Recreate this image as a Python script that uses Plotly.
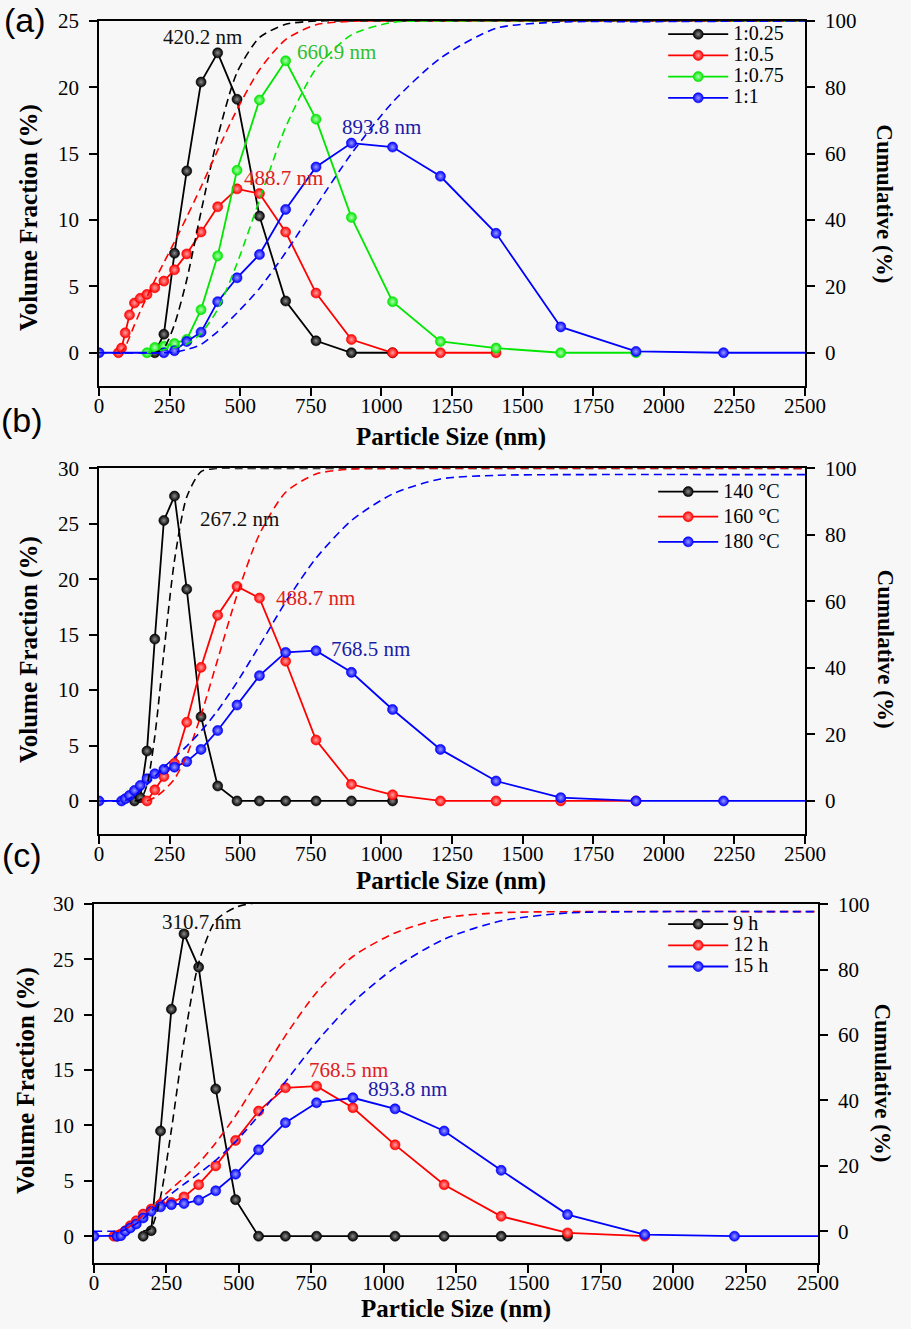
import plotly.graph_objs as go

SERIF = "Liberation Serif"

# ---- (a) ratio series : volume fraction (%) vs particle size (nm)
a_black_x = [197.5, 229.7, 267.2, 310.7, 361.3, 420.2, 488.7, 568.2, 660.9, 768.5, 893.8, 1039.5]
a_black_y = [0, 1.4, 7.5, 13.7, 20.4, 22.6, 19.1, 10.3, 3.9, 0.9, 0, 0]
a_red_x = [68.6, 79.8, 92.8, 107.9, 125.5, 146.0, 169.8, 197.5, 229.7, 267.2, 310.7, 361.3,
           420.2, 488.7, 568.2, 660.9, 768.5, 893.8, 1039.5, 1209.0, 1406.0]
a_red_y = [0, 0.35, 1.5, 2.85, 3.75, 4.1, 4.4, 4.9, 5.4, 6.25, 7.45, 9.1,
           11.0, 12.35, 12.0, 9.1, 4.5, 1.0, 0, 0, 0]
a_green_x = [169.8, 197.5, 229.7, 267.2, 310.7, 361.3, 420.2, 488.7, 568.2, 660.9, 768.5,
             893.8, 1039.5, 1209.0, 1406.0, 1635.1, 1901.6]
a_green_y = [0, 0.4, 0.5, 0.7, 1.0, 3.25, 7.3, 13.75, 19.05, 22.0, 17.6,
             10.2, 3.85, 0.85, 0.35, 0, 0]
a_blue_x = [0, 229.7, 267.2, 310.7, 361.3, 420.2, 488.7, 568.2, 660.9, 768.5, 893.8,
            1039.5, 1209.0, 1406.0, 1635.1, 1901.6, 2211.6, 2572.0]
a_blue_y = [0, 0, 0.15, 0.85, 1.55, 3.85, 5.65, 7.4, 10.8, 14.0, 15.8,
            15.5, 13.3, 9.0, 1.95, 0.1, 0, 0]

# cumulative (%) curves, right axis
a_black_cx = [197.5, 229.7, 267.2, 310.7, 361.3, 420.2, 488.7, 568.2, 660.9, 768.5, 893.8, 2500]
a_black_cum = [0, 1.4, 8.5, 22, 42.5, 65, 84.5, 95, 99, 100, 100, 100]
a_red_cx = [68.6, 79.8, 92.8, 107.9, 125.5, 146.0, 169.8, 197.5, 229.7, 267.2, 310.7, 361.3,
            420.2, 488.7, 568.2, 660.9, 768.5, 893.8, 1039.5, 2500]
a_red_cum = [0, 0.4, 1.8, 4.7, 8.4, 12.5, 16.9, 21.8, 27.2, 33.4, 40.9, 50,
             61, 73.3, 85.3, 94.4, 98.9, 99.9, 100, 100]
a_green_cx = [169.8, 197.5, 229.7, 267.2, 310.7, 361.3, 420.2, 488.7, 568.2, 660.9, 768.5,
              893.8, 1039.5, 1209.0, 2500]
a_green_cum = [0, 0.4, 0.9, 1.6, 2.6, 5.8, 13.1, 26.9, 46, 68, 85.6, 95.8, 99.6, 100, 100]
a_blue_cx = [0, 229.7, 267.2, 310.7, 361.3, 420.2, 488.7, 568.2, 660.9, 768.5, 893.8,
             1039.5, 1209.0, 1406.0, 1635.1, 1901.6, 2500]
a_blue_cum = [0, 0, 0.15, 1, 2.5, 6.4, 12, 19.4, 30.2, 44.2, 60, 75.5, 88.8, 97.8, 99.7, 99.8, 100]

# ---- (b) temperature series
b_black_x = [125.5, 146.0, 169.8, 197.5, 229.7, 267.2, 310.7, 361.3, 420.2, 488.7, 568.2,
             660.9, 768.5, 893.8, 1039.5]
b_black_y = [0, 0.3, 4.5, 14.6, 25.3, 27.5, 19.1, 7.6, 1.35, 0, 0, 0, 0, 0, 0]
b_red_x = [169.8, 197.5, 229.7, 267.2, 310.7, 361.3, 420.2, 488.7, 568.2, 660.9, 768.5,
           893.8, 1039.5, 1209.0, 1406.0, 1635.1, 1901.6]
b_red_y = [0, 1.0, 2.2, 3.4, 7.1, 12.05, 16.75, 19.35, 18.3, 12.6, 5.5, 1.5, 0.55, 0, 0, 0, 0]
b_blue_x = [0, 79.8, 92.8, 107.9, 125.5, 146.0, 169.8, 197.5, 229.7, 267.2, 310.7, 361.3,
            420.2, 488.7, 568.2, 660.9, 768.5, 893.8, 1039.5, 1209.0, 1406.0, 1635.1,
            1901.6, 2211.6, 2572.0]
b_blue_y = [0, 0, 0.2, 0.5, 0.95, 1.4, 2.0, 2.45, 2.85, 3.05, 3.55, 4.65,
            6.35, 8.65, 11.3, 13.4, 13.55, 11.6, 8.25, 4.65, 1.8, 0.3, 0, 0, 0]

b_black_cx = [125.5, 146.0, 169.8, 197.5, 229.7, 267.2, 310.7, 361.3, 420.2, 488.7, 2500]
b_black_cum = [0, 0.3, 4.8, 19.4, 44.7, 72.3, 91.4, 99, 100, 100, 100]
b_red_cx = [169.8, 197.5, 229.7, 267.2, 310.7, 361.3, 420.2, 488.7, 568.2, 660.9, 768.5,
            893.8, 1039.5, 2500]
b_red_cum = [0, 1, 3.2, 6.6, 13.7, 25.8, 42.5, 61.9, 80.2, 92.8, 98.3, 99.8, 100, 100]
b_blue_cx = [0, 79.8, 92.8, 107.9, 125.5, 146.0, 169.8, 197.5, 229.7, 267.2, 310.7, 361.3,
             420.2, 488.7, 568.2, 660.9, 768.5, 893.8, 1039.5, 1209.0, 1406.0, 1635.1, 2500]
b_blue_cum = [0, 0, 0.2, 0.7, 1.6, 3, 4.9, 7.3, 10.1, 13.1, 16.5, 21,
              27.2, 35.7, 46.7, 59.8, 73, 84.3, 92.3, 96.8, 97.9, 98.1, 98.1]

# ---- (c) time series
c_black_x = [169.8, 197.5, 229.7, 267.2, 310.7, 361.3, 420.2, 488.7, 568.2, 660.9, 768.5,
             893.8, 1039.5, 1209.0, 1406.0, 1635.1]
c_black_y = [0, 0.5, 9.5, 20.5, 27.3, 24.3, 13.3, 3.3, 0, 0, 0, 0, 0, 0, 0, 0]
c_red_x = [68.6, 79.8, 92.8, 107.9, 125.5, 146.0, 169.8, 197.5, 229.7, 267.2, 310.7, 361.3,
           420.2, 488.7, 568.2, 660.9, 768.5, 893.8, 1039.5, 1209.0, 1406.0, 1635.1, 1901.6]
c_red_y = [0, 0, 0.2, 0.5, 0.95, 1.4, 2.0, 2.45, 2.85, 3.05, 3.55, 4.65,
           6.35, 8.65, 11.3, 13.4, 13.55, 11.6, 8.25, 4.65, 1.8, 0.3, 0]
c_blue_x = [0, 79.8, 92.8, 107.9, 125.5, 146.0, 169.8, 197.5, 229.7, 267.2, 310.7, 361.3,
            420.2, 488.7, 568.2, 660.9, 768.5, 893.8, 1039.5, 1209.0, 1406.0, 1635.1,
            1901.6, 2211.6, 2572.0]
c_blue_y = [0, 0, 0.05, 0.45, 0.75, 1.1, 1.65, 2.25, 2.65, 2.85, 2.95, 3.25,
            4.1, 5.6, 7.8, 10.25, 12.05, 12.5, 11.5, 9.5, 5.95, 1.95, 0.15, 0, 0]

c_black_cx = [169.8, 197.5, 229.7, 267.2, 310.7, 361.3, 420.2, 488.7, 568.2, 2500]
c_black_cum = [0, 1, 10.5, 31, 58, 82, 95, 99, 100.5, 100.5]
c_red_cx = [68.6, 79.8, 92.8, 107.9, 125.5, 146.0, 169.8, 197.5, 229.7, 267.2, 310.7, 361.3,
            420.2, 488.7, 568.2, 660.9, 768.5, 893.8, 1039.5, 1209.0, 1406.0, 1635.1, 2500]
c_red_cum = [0, 0, 0.2, 0.7, 1.6, 3, 4.9, 7.3, 10, 13, 16.4, 20.8,
             27, 35.3, 46.5, 59.8, 73, 84, 91.2, 95.8, 97.4, 97.7, 97.7]
c_blue_cx = [0, 79.8, 92.8, 107.9, 125.5, 146.0, 169.8, 197.5, 229.7, 267.2, 310.7, 361.3,
             420.2, 488.7, 568.2, 660.9, 768.5, 893.8, 1039.5, 1209.0, 1406.0, 1635.1,
             1901.6, 2500]
c_blue_cum = [0, 0, 0.05, 0.5, 1.2, 2.3, 3.9, 6.1, 8.7, 11.5, 14.4, 17.6,
              21.7, 27.4, 35.3, 45.7, 57.9, 70, 80.6, 89.3, 94.9, 97.3, 97.7, 97.7]

# peak labels
a_peaks = [("420.2 nm", 365, 23.8, "black"), ("660.9 nm", 842, 22.7, "green"),
           ("488.7 nm", 654, 13.2, "red"), ("893.8 nm", 999, 17.0, "blue")]
b_peaks = [("267.2 nm", 499, 25.4, "black"), ("488.7 nm", 766, 18.3, "red"),
           ("768.5 nm", 960, 13.7, "blue")]
c_peaks = [("310.7 nm", 370, 28.4, "black"), ("768.5 nm", 879, 15.0, "red"),
           ("893.8 nm", 1082, 13.3, "blue")]

# line colour, sphere highlight colour, label colour
COLORS = {
    "black": ("#000000", "#8c8c8c", "#111111"),
    "red": ("#ff0000", "#ffa0a0", "#e02020"),
    "green": ("#00e600", "#b0ffb0", "#2fbf2f"),
    "blue": ("#0000ff", "#9a9aff", "#1c1ca8"),
}

panels = [
    dict(xa="x", ya="y", ya2="y2", legend="legend", peaks=a_peaks, series=[
        ("1:0.25", "black", a_black_x, a_black_y, a_black_cx, a_black_cum),
        ("1:0.5", "red", a_red_x, a_red_y, a_red_cx, a_red_cum),
        ("1:0.75", "green", a_green_x, a_green_y, a_green_cx, a_green_cum),
        ("1:1", "blue", a_blue_x, a_blue_y, a_blue_cx, a_blue_cum)]),
    dict(xa="x2", ya="y3", ya2="y4", legend="legend2", peaks=b_peaks, series=[
        ("140 °C", "black", b_black_x, b_black_y, b_black_cx, b_black_cum),
        ("160 °C", "red", b_red_x, b_red_y, b_red_cx, b_red_cum),
        ("180 °C", "blue", b_blue_x, b_blue_y, b_blue_cx, b_blue_cum)]),
    dict(xa="x3", ya="y5", ya2="y6", legend="legend3", peaks=c_peaks, series=[
        ("9 h", "black", c_black_x, c_black_y, c_black_cx, c_black_cum),
        ("12 h", "red", c_red_x, c_red_y, c_red_cx, c_red_cum),
        ("15 h", "blue", c_blue_x, c_blue_y, c_blue_cx, c_blue_cum)]),
]

fig = go.Figure()

for p in panels:
    for name, key, x, y, cx, cy in p["series"]:
        col, hi, _ = COLORS[key]
        # legend rows are packed by the legend font size; the entry text itself is drawn larger
        fig.add_trace(go.Scatter(
            x=x, y=y, xaxis=p["xa"], yaxis=p["ya"], legend=p["legend"],
            name=f"<span style='font-size:20px'>{name}</span>",
            mode="lines+markers", line=dict(color=col, width=1.8),
            marker=dict(size=10, color=col, gradient=dict(type="radial", color=hi),
                        line=dict(width=0.6, color=col))))
        fig.add_trace(go.Scatter(
            x=cx, y=cy, xaxis=p["xa"], yaxis=p["ya2"], mode="lines", showlegend=False,
            line=dict(color=col, width=1.6, dash="8px,5px", shape="spline", smoothing=0.7),
            hoverinfo="skip"))
    for text, px, py, key in p["peaks"]:
        fig.add_annotation(x=px, y=py, xref=p["xa"], yref=p["ya"], text=text, showarrow=False,
                           font=dict(family=SERIF, size=21, color=COLORS[key][2]))

axis = dict(showline=True, linecolor="black", linewidth=1.6, ticks="outside", ticklen=8,
            tickwidth=1.5, tickcolor="black", showgrid=False, zeroline=False, automargin=False,
            tickfont=dict(family=SERIF, size=21, color="black"))

x_dom = [[0.1087, 0.8836], [0.1087, 0.8836], [0.1032, 0.8979]]
y_dom = [[0.7096, 0.9842], [0.3723, 0.6476], [0.0494, 0.3198]]
y_rng = [[-2.5, 25], [-3, 30], [-2.45, 30]]
y2_rng = [[-10, 100], [-10, 100], [-9.8, 100.05]]

layout = {}
for i in range(3):
    xn = "xaxis" if i == 0 else f"xaxis{i + 1}"
    yn = "yaxis" if i == 0 else f"yaxis{2 * i + 1}"
    y2n = f"yaxis{2 * i + 2}"
    xid = "x" if i == 0 else f"x{i + 1}"
    yid = "y" if i == 0 else f"y{2 * i + 1}"
    layout[xn] = dict(axis, domain=x_dom[i], range=[0, 2500], tick0=0, dtick=250,
                      anchor=yid, mirror=True, ticklabelstandoff=-8)
    layout[yn] = dict(axis, domain=y_dom[i], range=y_rng[i], tick0=0, dtick=5,
                      anchor=xid, ticklabelstandoff=6)
    layout[y2n] = dict(axis, range=y2_rng[i], tick0=0, dtick=20, overlaying=yid,
                       side="right", anchor=xid, ticklabelstandoff=6)

legend_style = dict(bgcolor="rgba(0,0,0,0)", itemwidth=60, xanchor="left", yanchor="top",
                    tracegroupgap=0)
layout["legend"] = dict(legend_style, x=0.728, y=0.986,
                        font=dict(family=SERIF, size=14, color="black"))
layout["legend2"] = dict(legend_style, x=0.717, y=0.6433,
                         font=dict(family=SERIF, size=17, color="black"))
layout["legend3"] = dict(legend_style, x=0.728, y=0.3164,
                         font=dict(family=SERIF, size=14, color="black"))

fig.update_layout(**layout)

# panel letters and axis titles
titles = [
    ("(a)", 0.027, 0.9848, 0, "Liberation Sans", 34, False),
    ("(b)", 0.024, 0.684, 0, "Liberation Sans", 34, False),
    ("(c)", 0.024, 0.357, 0, "Liberation Sans", 34, False),
    ("Particle Size (nm)", 0.495, 0.671, 0, SERIF, 25, True),
    ("Particle Size (nm)", 0.495, 0.337, 0, SERIF, 25, True),
    ("Particle Size (nm)", 0.500, 0.0150, 0, SERIF, 25, True),
    ("Volume Fraction (%)", 0.032, 0.836, -90, SERIF, 25, True),
    ("Volume Fraction (%)", 0.032, 0.511, -90, SERIF, 25, True),
    ("Volume Fraction (%)", 0.029, 0.187, -90, SERIF, 25, True),
    ("Cumulative (%)", 0.9715, 0.847, 90, SERIF, 23, True),
    ("Cumulative (%)", 0.9715, 0.512, 90, SERIF, 23, True),
    ("Cumulative (%)", 0.969, 0.185, 90, SERIF, 23, True),
]
for text, tx, ty, ang, fam, size, bold in titles:
    fig.add_annotation(x=tx, y=ty, xref="paper", yref="paper", text=f"<b>{text}</b>" if bold else text,
                       textangle=ang, showarrow=False, xanchor="center", yanchor="middle",
                       font=dict(family=fam, size=size, color="black"))

fig.update_layout(width=911, height=1329, autosize=False,
                  margin=dict(l=0, r=0, t=0, b=0, autoexpand=False),
                  paper_bgcolor="#f7f7f7", plot_bgcolor="#f7f7f7")

# drop the page margin so the 911x1329 figure fills the window exactly
fig.write_html("out.html", config={"displayModeBar": False},
               post_script="document.body.style.margin='0';document.body.style.overflow='hidden';")
